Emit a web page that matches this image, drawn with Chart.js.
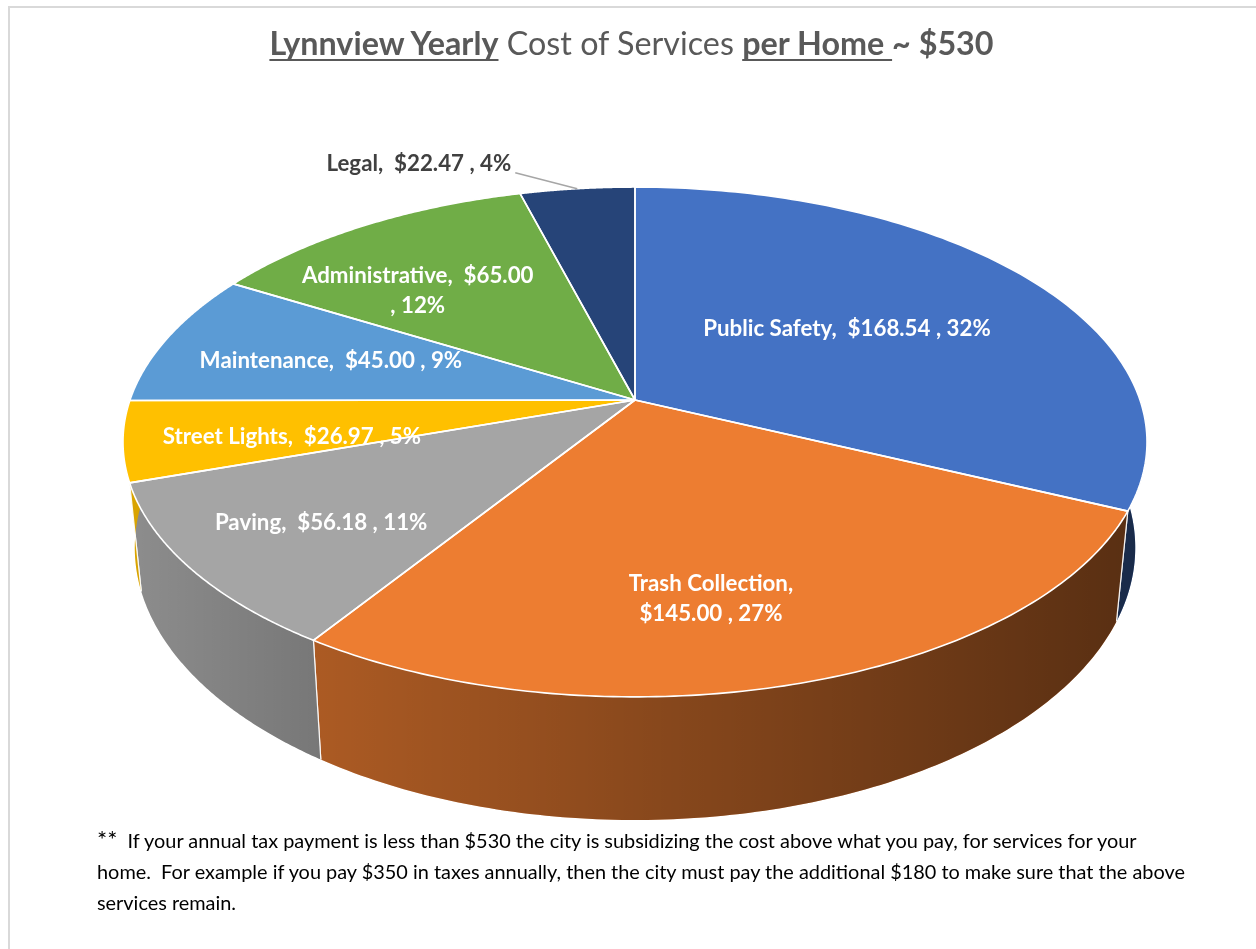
<!DOCTYPE html>
<html><head><meta charset="utf-8">
<script src="https://cdn.jsdelivr.net/npm/chart.js@4.4.1/dist/chart.umd.min.js"></script>
<style>
html,body{margin:0;padding:0;background:#fff;}
#wrap{position:relative;width:1256px;height:949px;overflow:hidden;background:#fff;}
canvas{position:absolute;left:0;top:0;}
#frame{position:absolute;left:8px;top:6px;width:1300px;height:1000px;border-left:2px solid #d9d9d9;border-top:2px solid #d9d9d9;}
#title{position:absolute;left:0;top:23px;width:1263px;text-align:center;font-family:Lato,"Open Sans",sans-serif;font-size:32.3px;color:#595959;white-space:pre;}
#title u{text-decoration-thickness:2px;text-decoration-skip-ink:none;text-underline-offset:4px;}
#title b{font-weight:700;}
#note{position:absolute;left:97px;top:823px;font-family:Lato,"Open Sans",sans-serif;font-size:19.9px;line-height:31px;color:#000;white-space:pre;}
#note .ast{font-size:24px;}
</style></head>
<body><div id="wrap"><canvas id="c" width="1256" height="949"></canvas><div id="frame"></div>
<div id="title"><u><b>Lynnview Yearly</b></u> Cost of Services <u><b>per Home </b></u><b>~ $530</b></div>
<div id="note"><span class="ast">**</span>  If your annual tax payment is less than $530 the city is subsidizing the cost above what you pay, for services for your
home.  For example if you pay $350 in taxes annually, then the city must pay the additional $180 to make sure that the above
services remain.</div>
</div>
<script>
// ---- data ----
const categories = ['Public Safety', 'Trash Collection', 'Paving', 'Street Lights', 'Maintenance', 'Administrative', 'Legal'];
const values = [168.54, 145.00, 56.18, 26.97, 45.00, 65.00, 22.47];
const percents = [32, 27, 11, 5, 9, 12, 4];
const colors = ['#4472C4', '#ED7D31', '#A5A5A5', '#FFC000', '#5B9BD5', '#70AD47', '#264478'];
// label wrapping: 0 = single line, 1 = break after name, 2 = break after value
const labelWrap = [0, 1, 0, 0, 0, 2, 0];
const labelOutside = [false, false, false, false, false, false, true];
// label placement within slice (radial fraction, angular shift in degrees)
const labelRadius = [0.533, 0.721, 0.735, 0.679, 0.639, 0.663, 1.0];
const labelShift = [-1.6, 5.4, -1.0, -3.1, -0.55, -7.0, 0];

// ---- 3D projection settings (relative to chart outer radius) ----
const RX = 1.2625, AY = 0.620, PERSP = 0.1647, DEPTH = 0.257, KX = 0.977;

function labelLines(i) {
  const name = categories[i] + ',';
  const val = '$' + values[i].toFixed(2);
  const pct = percents[i] + '%';
  if (labelWrap[i] === 1) return [name, val + ' , ' + pct];
  if (labelWrap[i] === 2) return [name + '  ' + val, ', ' + pct];
  return [name + '  ' + val + ' , ' + pct];
}

const pie3d = {
  id: 'pie3d',
  beforeDatasetsDraw(chart) {
    const ctx = chart.ctx;
    const meta = chart.getDatasetMeta(0);
    const arcs = meta.data;
    if (!arcs.length) return false;
    const cx = arcs[0].x, cy = arcs[0].y, or = arcs[0].outerRadius;
    const R = or * RX, A = or * AY, H = or * DEPTH;
    const proj = (th, r) => {
      const c = r * Math.cos(th), sn = r * Math.sin(th);
      const s = 1 / (1 + PERSP * c);
      return { x: cx + R * sn * s, y: cy - A * c * s, s };
    };
    const bottom = (p) => ({ x: cx + (p.x - cx) * KX, y: p.y + H * p.s });
    const N = 120;
    const ang = arcs.map(a => [a.startAngle + Math.PI / 2, a.endAngle + Math.PI / 2]);

    // walls (front half)
    const lo = Math.PI / 2, hi = 3 * Math.PI / 2;
    ctx.save();
    arcs.forEach((a, i) => {
      const t0 = Math.max(ang[i][0], lo), t1 = Math.min(ang[i][1], hi);
      if (t1 <= t0) return;
      const top = [], bot = [];
      for (let k = 0; k <= N; k++) {
        const p = proj(t0 + (t1 - t0) * k / N, 1);
        top.push(p); bot.push(bottom(p));
      }
      ctx.beginPath();
      top.forEach((p, k) => k ? ctx.lineTo(p.x, p.y) : ctx.moveTo(p.x, p.y));
      for (let k = bot.length - 1; k >= 0; k--) ctx.lineTo(bot[k].x, bot[k].y);
      ctx.closePath();
      ctx.fillStyle = colors[i];
      ctx.fill();
      const g = ctx.createLinearGradient(cx - R * 1.015, 0, cx + R * 1.015, 0);
      g.addColorStop(0, 'rgba(0,0,0,0.14)');
      g.addColorStop(0.193, 'rgba(0,0,0,0.28)');
      g.addColorStop(0.55, 'rgba(0,0,0,0.44)');
      g.addColorStop(1, 'rgba(0,0,0,0.63)');
      ctx.fillStyle = g;
      ctx.fill();
      ctx.strokeStyle = 'rgba(255,255,255,0.9)';
      ctx.lineWidth = 1.2;
      ctx.lineJoin = 'round';
      ctx.beginPath();
      ctx.moveTo(top[0].x, top[0].y); ctx.lineTo(bot[0].x, bot[0].y);
      ctx.moveTo(top[N].x, top[N].y); ctx.lineTo(bot[N].x, bot[N].y);
      ctx.stroke();
    });

    // top faces
    const facePath = (i) => {
      const [t0, t1] = ang[i];
      ctx.beginPath();
      ctx.moveTo(cx, cy);
      for (let k = 0; k <= N; k++) {
        const p = proj(t0 + (t1 - t0) * k / N, 1);
        ctx.lineTo(p.x, p.y);
      }
      ctx.closePath();
    };
    arcs.forEach((a, i) => { facePath(i); ctx.fillStyle = colors[i]; ctx.fill(); });
    arcs.forEach((a, i) => {
      facePath(i);
      ctx.strokeStyle = '#ffffff';
      ctx.lineWidth = 1.6;
      ctx.lineJoin = 'round';
      ctx.stroke();
    });

    // labels
    ctx.font = 'bold 22.3px Lato, "Open Sans", sans-serif';
    ctx.textBaseline = 'middle';
    arcs.forEach((a, i) => {
      const mid = (ang[i][0] + ang[i][1]) / 2;
      const lines = labelLines(i);
      if (labelOutside[i]) {
        const p = proj(mid, 1);
        const q = { x: p.x - 62, y: p.y - 16 };
        ctx.strokeStyle = '#a6a6a6';
        ctx.lineWidth = 1.5;
        ctx.beginPath(); ctx.moveTo(p.x, p.y); ctx.lineTo(q.x, q.y); ctx.stroke();
        ctx.fillStyle = '#404040';
        ctx.textAlign = 'right';
        ctx.fillText(lines[0], q.x - 4, q.y - 9);
        return;
      }
      const p = proj(mid + labelShift[i] * Math.PI / 180, labelRadius[i]);
      ctx.fillStyle = '#ffffff';
      ctx.textAlign = 'center';
      const lh = 30;
      lines.forEach((t, k) => ctx.fillText(t, p.x, p.y + (k - (lines.length - 1) / 2) * lh));
    });
    ctx.restore();
    return false;
  }
};

function build() {
  new Chart(document.getElementById('c'), {
    type: 'pie',
    data: { labels: categories, datasets: [{ data: values, backgroundColor: colors, borderWidth: 0 }] },
    options: {
      responsive: false,
      animation: false,
      layout: { padding: { left: 14, right: 0, top: 0, bottom: 149 } },
      plugins: { legend: { display: false }, tooltip: { enabled: false } }
    },
    plugins: [pie3d]
  });
}
if (document.fonts && document.fonts.load) {
  Promise.all([document.fonts.load('bold 22px Lato'), document.fonts.load('22px Lato')]).then(build, build);
} else build();
</script>
</body></html>
